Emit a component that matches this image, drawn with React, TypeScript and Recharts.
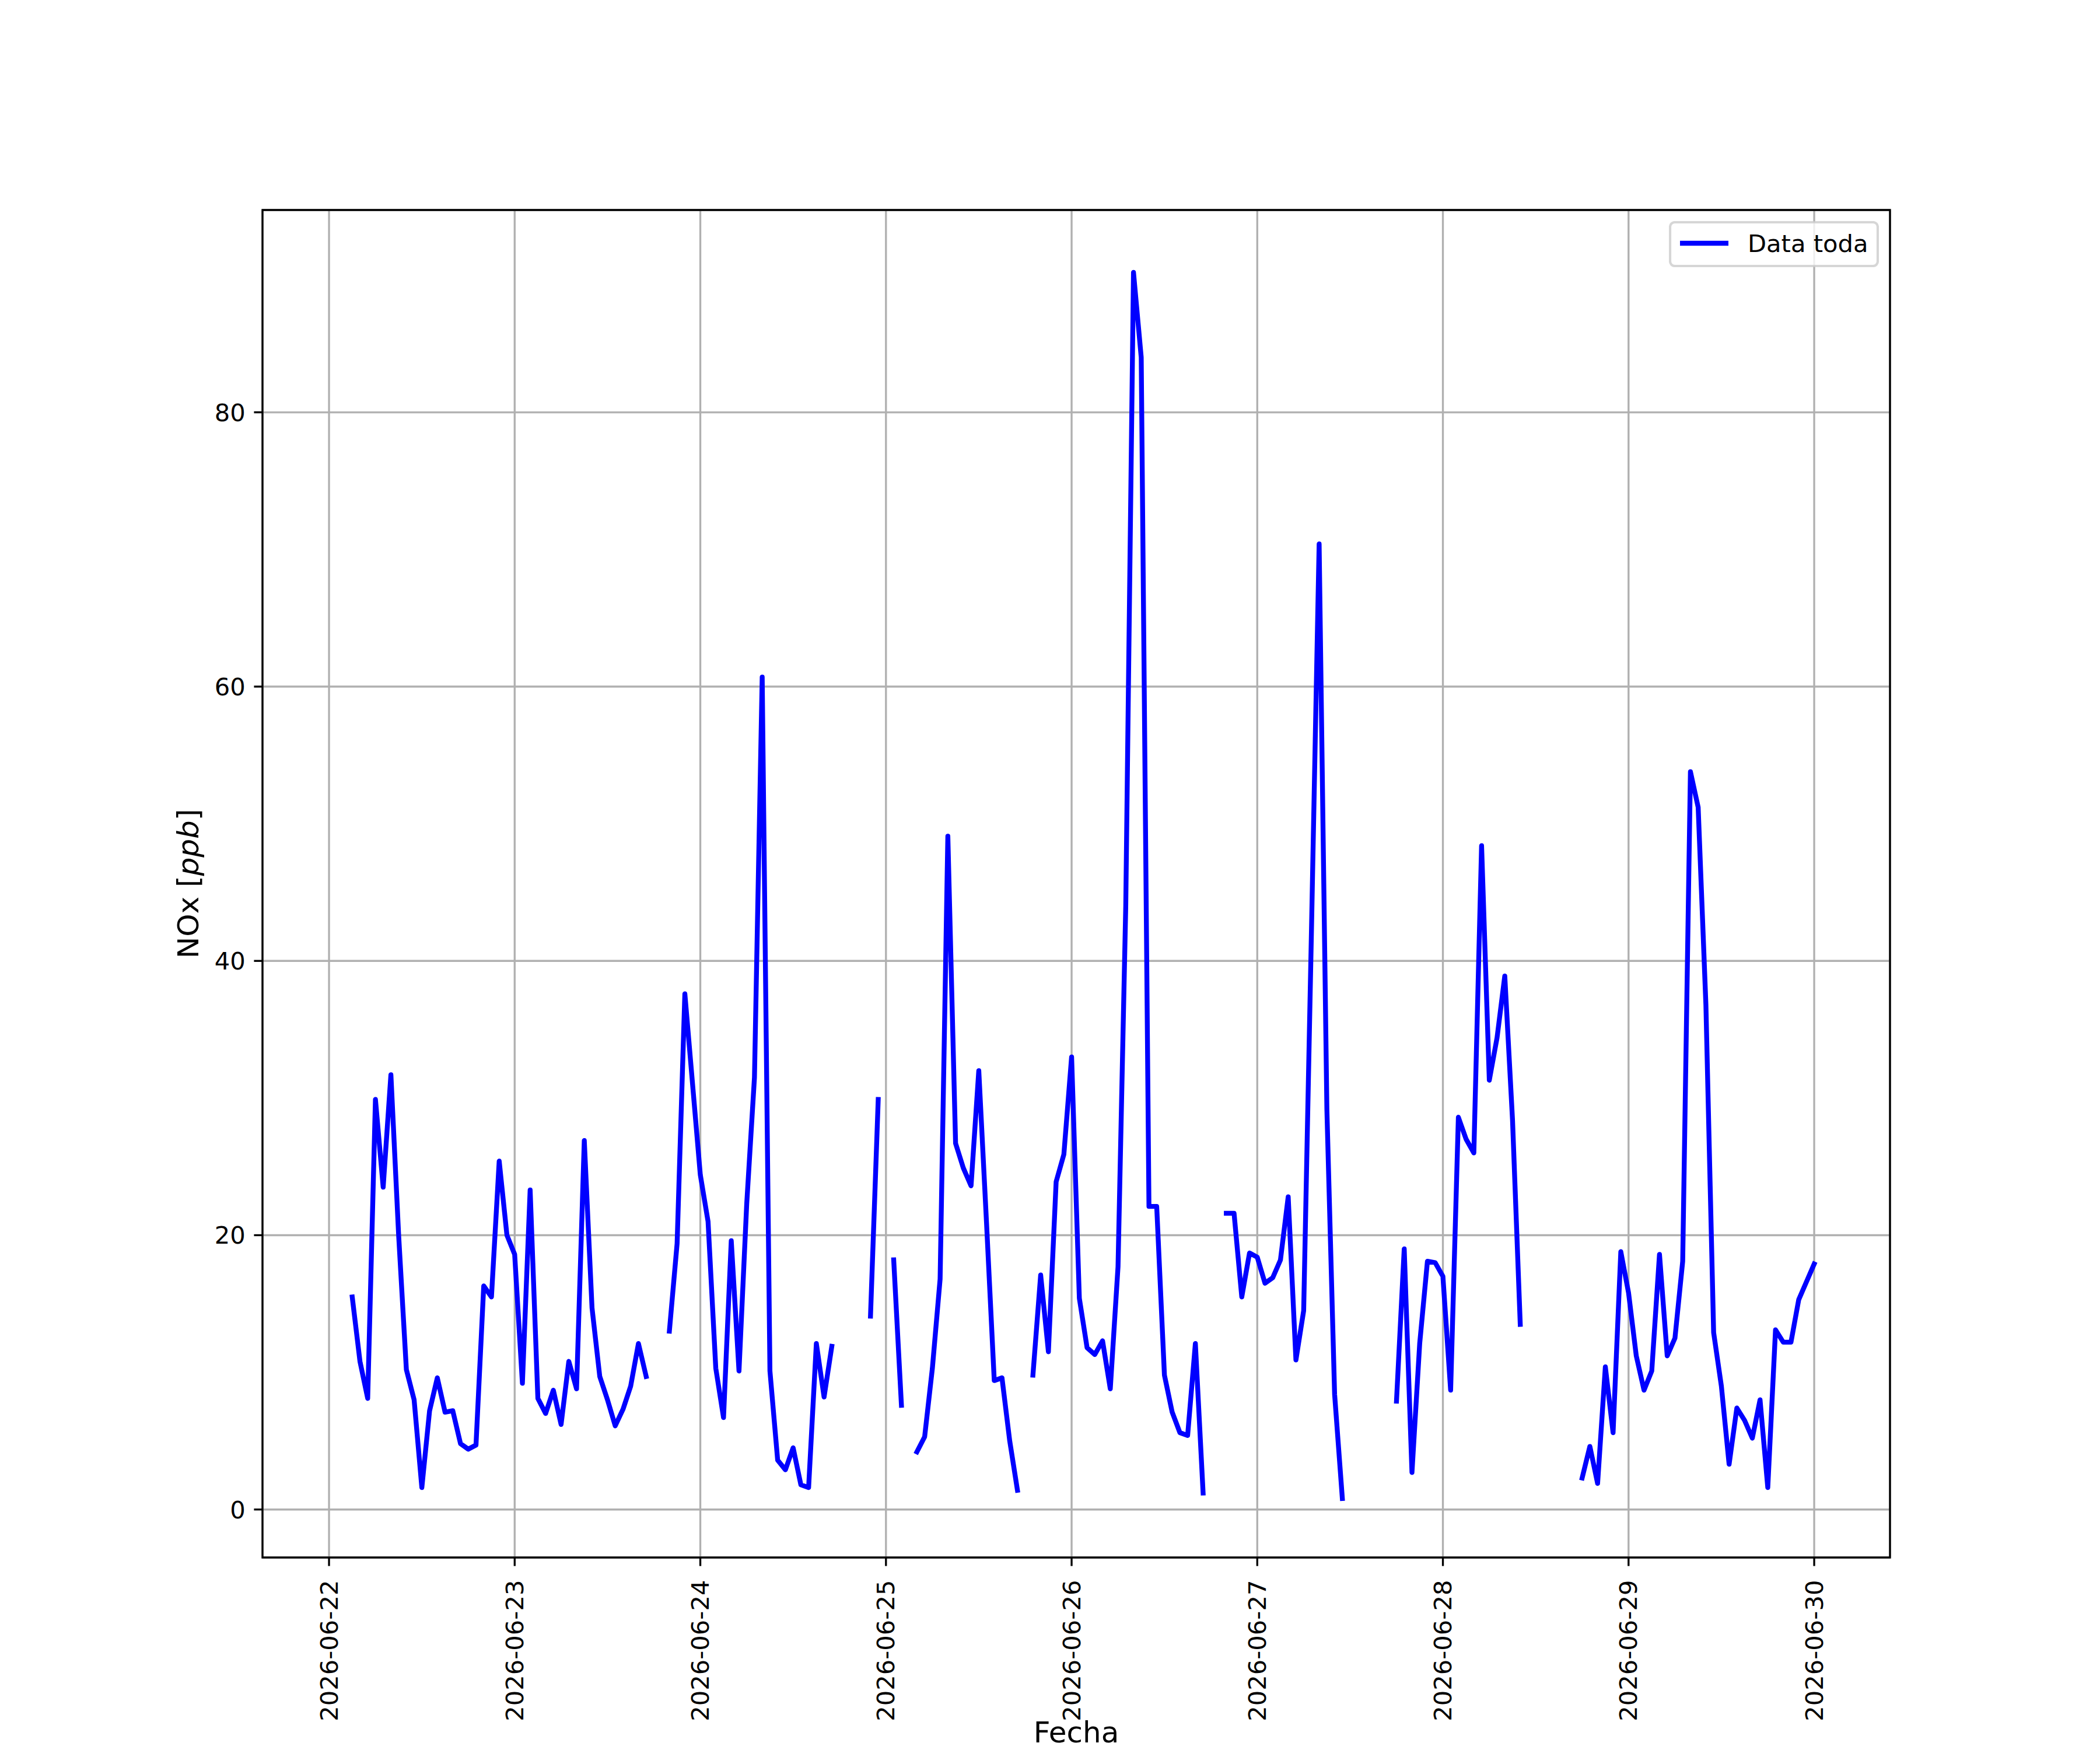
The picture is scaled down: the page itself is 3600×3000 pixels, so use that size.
import { CartesianGrid, Legend, Line, LineChart, ReferenceArea, XAxis, YAxis } from "recharts";

// figure is 12x10 in at 300 dpi, so 1pt = 300/72 px
const PT = 300 / 72;
const FONT = "DejaVu Sans";

const DAY_LABELS = [
  "2026-06-22",
  "2026-06-23",
  "2026-06-24",
  "2026-06-25",
  "2026-06-26",
  "2026-06-27",
  "2026-06-28",
  "2026-06-29",
  "2026-06-30",
];
const Y_TICKS = [0, 20, 40, 60, 80];

// hourly NOx [ppb], 00:00 .. 23:00 of each day, null = no reading
const JUN_22 = [
  null, null, null, 15.5, 10.8, 8.1, 29.9, 23.5, 31.7, 20.0, 10.2, 8.0,
  1.6, 7.2, 9.6, 7.1, 7.2, 4.8, 4.4, 4.7, 16.3, 15.5, 25.4, 20.0,
];
const JUN_23 = [
  18.6, 9.2, 23.3, 8.1, 7.0, 8.7, 6.2, 10.8, 8.8, 26.9, 14.7, 9.7,
  8.0, 6.1, 7.3, 9.0, 12.1, 9.7, null, null, 13.0, 19.4, 37.6, 31.0,
];
const JUN_24 = [
  24.4, 21.0, 10.3, 6.7, 19.6, 10.1, 22.3, 31.5, 60.7, 10.1, 3.6, 2.9,
  4.5, 1.8, 1.6, 12.1, 8.2, 11.9, null, null, null, null, 14.1, 29.9,
];
const JUN_25 = [
  null, 18.2, 7.6, null, 4.2, 5.3, 10.3, 16.8, 49.1, 26.7, 24.9, 23.6,
  32.0, 20.9, 9.4, 9.6, 5.0, 1.4, null, 9.8, 17.1, 11.5, 23.9, 25.9,
];
const JUN_26 = [
  33.0, 15.4, 11.8, 11.3, 12.3, 8.8, 17.7, 44.0, 90.2, 84.0, 22.1, 22.1,
  9.8, 7.1, 5.6, 5.4, 12.1, 1.2, null, null, 21.6, 21.6, 15.5, 18.7,
];
const JUN_27 = [
  18.4, 16.5, 16.9, 18.2, 22.8, 10.9, 14.5, 42.0, 70.4, 29.2, 8.4, 0.8,
  null, null, null, null, null, null, 7.9, 19.0, 2.7, 12.1, 18.1, 18.0,
];
const JUN_28 = [
  17.0, 8.7, 28.6, 27.0, 26.0, 48.4, 31.3, 34.4, 38.9, 28.4, 13.5, null,
  null, null, null, null, null, null, 2.3, 4.6, 1.9, 10.4, 5.6, 18.8,
];
const JUN_29 = [
  15.8, 11.2, 8.7, 10.1, 18.6, 11.2, 12.5, 18.1, 53.8, 51.2, 36.8, 12.9,
  9.0, 3.3, 7.4, 6.5, 5.2, 8.0, 1.6, 13.1, 12.2, 12.2, 15.3, 16.6,
];
const JUN_30 = [17.9];

const DAYS = [JUN_22, JUN_23, JUN_24, JUN_25, JUN_26, JUN_27, JUN_28, JUN_29, JUN_30];

// x is hours since 2026-06-22 00:00
const data = DAYS.flatMap((vals, d) => vals.map((v, i) => ({ h: d * 24 + i, nox: v })));
const X_TICKS = DAY_LABELS.map((_, i) => i * 24);

const X_DOMAIN: [number, number] = [-8.6, 201.8];
const Y_DOMAIN: [number, number] = [-3.5, 94.75];

function DateTick({ x, y, payload }: any) {
  return (
    <text
      x={x}
      y={y}
      transform={`rotate(-90 ${x} ${y})`}
      textAnchor="end"
      dominantBaseline="central"
      fontSize={10 * PT}
      fontFamily={FONT}
      fill="#000"
    >
      {DAY_LABELS[Math.round(payload.value / 24)]}
    </text>
  );
}

function LegendBox({ payload }: any) {
  const item = payload?.[0];
  return (
    <svg width={360} height={79} style={{ display: "block" }}>
      <rect
        x={2}
        y={2}
        width={356}
        height={75}
        rx={8}
        fill="rgba(255,255,255,0.8)"
        stroke="rgba(204,204,204,0.8)"
        strokeWidth={PT}
      />
      <line x1={19} y1={38} x2={102} y2={38} stroke="#0000ff" strokeWidth={2 * PT} />
      <text x={135} y={38} dominantBaseline="central" fontSize={10 * PT} fontFamily={FONT} fill="#000">
        {item?.value ?? "Data toda"}
      </text>
    </svg>
  );
}

export default function App() {
  return (
    <div style={{ position: "absolute", left: 0, top: 0, width: 3600, height: 3000, background: "#fff", fontFamily: FONT }}>
      <LineChart width={3600} height={3000} data={data} margin={{ top: 360, right: 360, bottom: 0, left: 0 }}>
        <CartesianGrid stroke="#b0b0b0" strokeWidth={0.8 * PT} />
        <XAxis
          dataKey="h"
          type="number"
          domain={X_DOMAIN}
          allowDataOverflow
          ticks={X_TICKS}
          interval={0}
          height={330}
          axisLine={false}
          tickLine={{ stroke: "#000", strokeWidth: 0.8 * PT }}
          tickSize={3.5 * PT}
          tickMargin={24}
          tick={<DateTick />}
          label={{
            content: () => (
              <text x={1845} y={2987} textAnchor="middle" fontSize={12 * PT} fontFamily={FONT} fill="#000">
                Fecha
              </text>
            ),
          }}
        />
        <YAxis
          type="number"
          domain={Y_DOMAIN}
          allowDataOverflow
          ticks={Y_TICKS}
          interval={0}
          width={450}
          axisLine={false}
          tickLine={{ stroke: "#000", strokeWidth: 0.8 * PT }}
          tickSize={3.5 * PT}
          tickMargin={3.5 * PT}
          tick={{ fill: "#000", fontSize: 10 * PT, fontFamily: FONT }}
          label={{
            content: () => (
              <text
                x={323}
                y={1515}
                transform="rotate(-90 323 1515)"
                textAnchor="middle"
                dominantBaseline="central"
                fontSize={12 * PT}
                fontFamily={FONT}
                fill="#000"
              >
                NOx [<tspan fontStyle="italic">ppb</tspan>]
              </text>
            ),
          }}
        />
        <Line
          type="linear"
          dataKey="nox"
          name="Data toda"
          stroke="#0000ff"
          strokeWidth={2 * PT}
          strokeLinecap="square"
          strokeLinejoin="round"
          dot={false}
          activeDot={false}
          connectNulls={false}
          isAnimationActive={false}
        />
        <ReferenceArea
          x1={X_DOMAIN[0]}
          x2={X_DOMAIN[1]}
          y1={Y_DOMAIN[0]}
          y2={Y_DOMAIN[1]}
          fill="none"
          fillOpacity={0}
          stroke="#000"
          strokeWidth={0.8 * PT}
          ifOverflow="visible"
        />
        <Legend
          layout="vertical"
          align="center"
          verticalAlign="middle"
          content={<LegendBox />}
          wrapperStyle={{ left: 2861, top: 379, right: "auto", bottom: "auto", width: 360, height: 79 }}
        />
      </LineChart>
    </div>
  );
}
